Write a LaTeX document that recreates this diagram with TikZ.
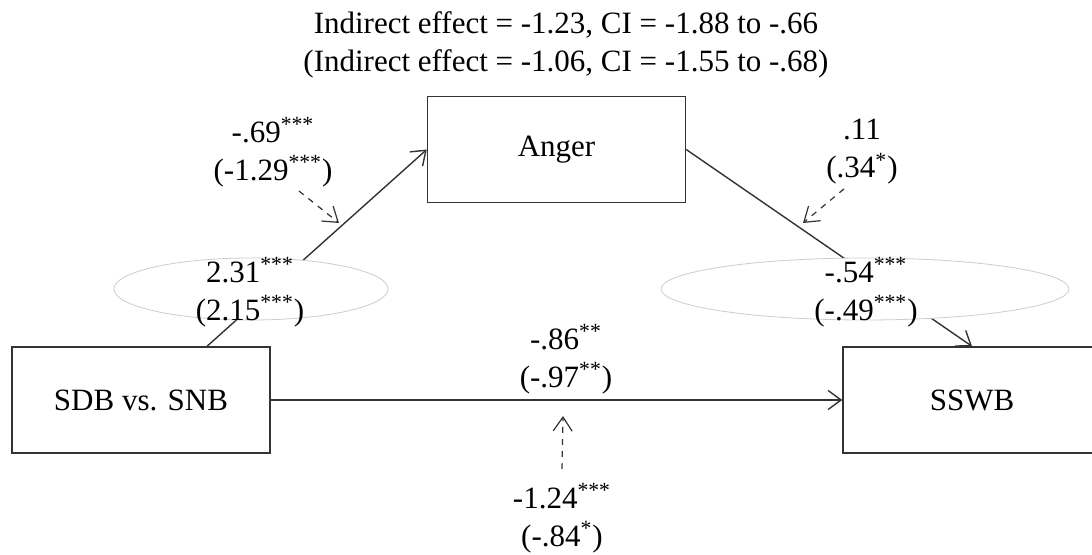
\documentclass[tikz,border=0pt]{standalone}
\usepackage{fontspec}
\setmainfont{Liberation Serif}
\usetikzlibrary{arrows.meta,shapes.geometric}
\newcommand{\sig}[1]{\textsuperscript{#1}}

\begin{document}
\begin{tikzpicture}[x=0.5pt,y=-0.5pt,
 font=\fontsize{15.5}{19}\selectfont,
 var/.style={draw=black!80,line width=0.7pt,minimum width=129pt,minimum height=53pt,inner sep=0pt},
 effect/.style={draw=black!80,line width=0.7pt,-{Straight Barb[length=6.5pt,width=9.5pt]}},
 modline/.style={draw=black!80,line width=0.6pt,dashed,-{Straight Barb[length=7pt,width=9.5pt]}},
 halo/.style={ellipse,draw=black!20,line width=0.4pt,fill=white,minimum height=31pt},
 coef/.style={align=center,inner sep=0pt}]
\clip (0,0) rectangle (1092,555);
% variables
\node[var] (sdb) at (141,400) {SDB vs. SNB};
\node[var] (anger) at (556.5,149.5) {Anger};
\node[var] (sswb) at (972,400) {SSWB};
% paths
\draw[effect] ([xshift=33pt]sdb.north) -- (anger.west);
\draw[effect] (anger.east) -- (sswb.north);
\draw[effect] (sdb.east) -- (sswb.west);
\node[halo,minimum width=137pt] (ea) at (251,289) {};
\node[halo,minimum width=204pt] (eb) at (865,289) {};
% coefficients
\node[coef] (top) at (566,45) {Indirect effect = -1.23, CI = -1.88 to -.66\\(Indirect effect = -1.06, CI = -1.55 to -.68)};
\node[coef] (a) at (250,292) {2.31\sig{***}\\(2.15\sig{***})};
\node[coef] (b) at (866,292) {-.54\sig{***}\\(-.49\sig{***})};
\node[coef] (c) at (566,359) {-.86\sig{**}\\(-.97\sig{**})};
\node[coef] (wa) at (273,152) {-.69\sig{***}\\(-1.29\sig{***})};
\node[coef] (wb) at (862,152) {.11\\(.34\sig{*})};
\node[coef] (wc) at (562,518) {-1.24\sig{***}\\(-.84\sig{*})};
% moderation
\coordinate (ma) at (339,223);
\coordinate (mb) at (803,223);
\coordinate (mc) at (563,416);
\draw[modline] ([xshift=13pt,yshift=-2pt]wa.south) -- (ma);
\draw[modline] ([xshift=-9pt,yshift=-2pt]wb.south) -- (mb);
\draw[modline] ([yshift=7pt]wc.north) -- (mc);
\end{tikzpicture}
\end{document}
